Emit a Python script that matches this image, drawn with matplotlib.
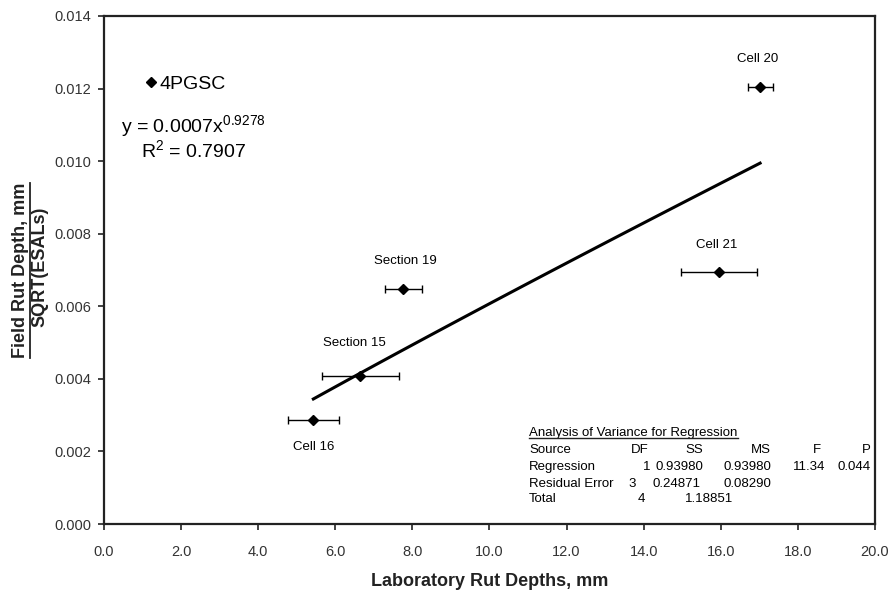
import matplotlib
matplotlib.use('Agg')
import numpy as np
import matplotlib.pyplot as plt
from matplotlib.lines import Line2D

plt.rcParams['font.family'] = ['Liberation Sans', 'DejaVu Sans']
plt.rcParams['mathtext.fontset'] = 'custom'
plt.rcParams['mathtext.rm'] = 'Liberation Sans'

# points
names = ['Cell 16', 'Section 15', 'Section 19', 'Cell 21', 'Cell 20']
lab_rut = [5.43, 6.64, 7.75, 15.96, 17.02]
field_rut = [0.00287, 0.00409, 0.00647, 0.00694, 0.01205]
lab_lo = [4.76, 5.65, 7.28, 14.97, 16.70]
lab_hi = [6.10, 7.65, 8.25, 16.95, 17.35]

# power trendline (coefficient as drawn, label shows rounded value)
fit_coef = 0.000717
fit_exp = 0.9278
r2 = 0.7907

anova_title = 'Analysis of Variance for Regression'
anova_rows = [
    ['Source', 'DF', 'SS', 'MS', 'F', 'P'],
    ['Regression', '1', '0.93980', '0.93980', '11.34', '0.044'],
    ['Residual Error', '3', '0.24871', '0.08290', '', ''],
    ['Total', '4', '1.18851', '', '', ''],
]

x_ticks = np.arange(0, 20.1, 2)
y_ticks = np.arange(0, 0.0141, 0.002)

# label offsets in points (dx, dy) and alignment
label_off = [(0, -15, 'top'), (-4, 19, 'bottom'), (2, 16, 'bottom'),
             (-2, 15, 'bottom'), (-2, 16, 'bottom')]

fig = plt.figure(figsize=(8.93, 5.94), dpi=100)
ax = fig.add_axes([0.1165, 0.1178, 0.8633, 0.8553])

lo_err = np.array(lab_rut) - np.array(lab_lo)
hi_err = np.array(lab_hi) - np.array(lab_rut)
ax.errorbar(lab_rut, field_rut, xerr=[lo_err, hi_err], fmt='none',
            ecolor='black', elinewidth=1.0, capsize=2.6, capthick=1.0, zorder=2)
ax.plot(lab_rut, field_rut, 'D', color='black', ms=5.2, zorder=4)

xf = np.linspace(min(lab_rut), max(lab_rut), 60)
ax.plot(xf, fit_coef * xf ** fit_exp, color='black', lw=2.2, zorder=3)

for name, x, y, (dx, dy, va) in zip(names, lab_rut, field_rut, label_off):
    ax.annotate(name, (x, y), xytext=(dx, dy), textcoords='offset points',
                ha='center', va=va, fontsize=9.5)

# legend
h = Line2D([], [], marker='D', color='black', ls='none', ms=5.2)
ax.legend([h], ['4PGSC'], loc='center left', bbox_to_anchor=(0.054, 0.866),
          frameon=False, fontsize=14, handlelength=0.5, handletextpad=0.2,
          borderpad=0, borderaxespad=0)

ax.text(2.33, 0.01095, 'y = 0.0007x$^{\\mathregular{0.9278}}$', ha='center',
        va='center', fontsize=14)
ax.text(2.33, 0.01028, 'R$^{\\mathregular{2}}$ = %.4f' % r2, ha='center',
        va='center', fontsize=14)

# ANOVA table
tfs = 9.5
t = ax.text(11.03, 0.00251, anova_title, ha='left', va='center', fontsize=tfs)
col_x = [11.03, 13.90, 15.54, 17.30, 18.60, 19.88]
col_ha = ['left', 'center', 'right', 'right', 'right', 'right']
row_y = [0.00204, 0.00157, 0.00111, 0.00068]
row_shift = [[0, 0, 0, 0, 0, 0], [0, 0.17, 0, 0, 0.12, 0],
             [0, -0.19, -0.06, 0, 0, 0], [0, 0.05, 0.77, 0, 0, 0]]
for row, y, sh in zip(anova_rows, row_y, row_shift):
    for cell, x, ha, s in zip(row, col_x, col_ha, sh):
        ax.text(x + s, y, cell, ha=ha, va='center', fontsize=tfs)

ax.set_xlim(0, 20)
ax.set_ylim(0, 0.014)
ax.set_xticks(x_ticks)
ax.set_xticklabels(['%.1f' % v for v in x_ticks])
ax.set_yticks(y_ticks)
ax.set_yticklabels(['%.3f' % v for v in y_ticks])
ax.tick_params(direction='out', length=4, width=1.2, labelsize=10.5,
               colors='#222222', labelcolor='#333333')
ax.tick_params(axis='x', pad=11)
ax.tick_params(axis='y', pad=5)
for sp in ax.spines.values():
    sp.set_linewidth(1.6)
    sp.set_color('#222222')

ax.set_xlabel('Laboratory Rut Depths, mm', fontsize=13, fontweight='bold',
              labelpad=10, color='#222222')

yl1 = fig.text(0.0235, 0.545, 'Field Rut Depth, mm', rotation=90, ha='center',
               va='center', fontsize=13, fontweight='bold', color='#222222')
fig.text(0.0445, 0.55, 'SQRT(ESALs)', rotation=90, ha='center', va='center',
         fontsize=13, fontweight='bold', color='#222222')

# underlines
fig.canvas.draw()
r = fig.canvas.get_renderer()
inv = fig.transFigure.inverted()
bb = yl1.get_window_extent(r)
(x0, y0), (x1, y1) = inv.transform([[bb.x0, bb.y0], [bb.x1, bb.y1]])
fig.add_artist(Line2D([x1 + 0.001, x1 + 0.001], [y0, y1], color='#222222', lw=1.3))
bb = t.get_window_extent(r)
(x0, y0), (x1, y1) = inv.transform([[bb.x0, bb.y0], [bb.x1, bb.y1]])
fig.add_artist(Line2D([x0, x1], [y0 + 0.001, y0 + 0.001], color='#222222', lw=1.0))

fig.savefig('out.png', dpi=100)
